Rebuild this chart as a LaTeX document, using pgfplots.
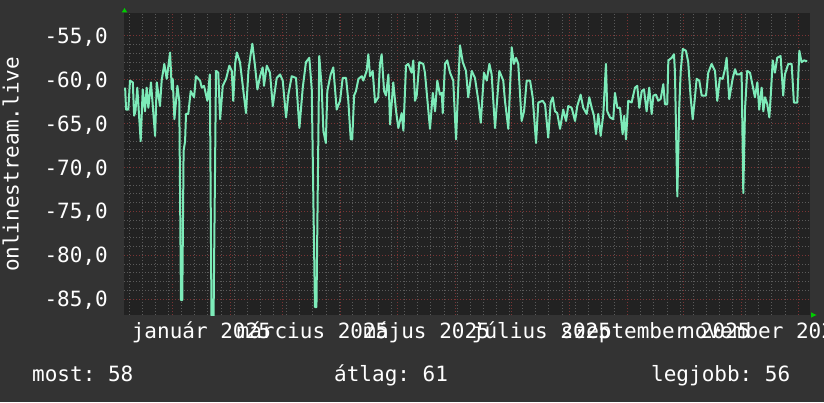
\documentclass[border=0pt]{standalone}
\usepackage{pgfplots}
\pgfplotsset{compat=1.18}
\usepackage{fontspec}
\setmainfont{DejaVu Sans Mono}
\frenchspacing
\definecolor{bgout}{HTML}{333333}
\definecolor{bgplot}{HTML}{222222}
\definecolor{gridminor}{HTML}{5A5A5A}
\definecolor{gridmajor}{HTML}{7A3434}
\definecolor{trace}{HTML}{7DEBB9}
\definecolor{arrowgreen}{HTML}{00CC00}
\newcommand\rrdfont{\fontsize{21}{24}\selectfont}

\begin{document}
\begin{tikzpicture}[x=1pt,y=1pt]
\fill[bgout] (0,0) rectangle (824,402);
\begin{axis}[
  at={(124pt,87pt)}, anchor=south west,
  scale only axis, width=686pt, height=302pt,
  xmin=-25.8, xmax=340.3, ymin=-86.8, ymax=-52.4,
  axis background/.style={fill=bgplot},
  axis line style={draw=none},
  % month starts (day 0 = 1 Jan 2025)
  xtick={0,31,59,90,120,151,181,212,243,273,304,334},
  xticklabels={},
  minor xtick={-23,-16,...,340},
  extra x ticks={15.5,74.8,135.7,197,258,316},
  extra x tick labels={január 2025,március 2025,május 2025,július 2025,szeptember 2025,november 2025},
  extra x tick style={grid=none},
  ytick={-85,-80,...,-55},
  minor y tick num=4,
  grid=both,
  major grid style={gridmajor, line width=1pt, dash pattern=on 1pt off 2pt},
  minor grid style={gridminor, line width=1pt, dash pattern=on 1pt off 2pt},
  major tick length=0pt, minor tick length=0pt,
  tick label style={font=\rrdfont, text=white},
  yticklabel style={anchor=base east, inner sep=0pt, xshift=-16pt, yshift=-7.5pt,
    /pgf/number format/fixed, /pgf/number format/fixed zerofill,
    /pgf/number format/precision=1, /pgf/number format/use comma,
    /pgf/number format/assume math mode=true},
  xticklabel style={anchor=base, inner sep=0pt, yshift=-23.5pt},
]
\addplot[trace, line width=2pt, line join=round, mark=none] coordinates {
(-25.2,-60.9) (-24.7,-63.4) (-23.5,-63.4) (-22.6,-60.1) (-21.1,-60.3) (-20.4,-64.1) (-19.7,-63.6) (-18.7,-60.9)
(-16.9,-67.0) (-15.8,-61.1) (-14.6,-63.6) (-13.7,-60.9) (-12.8,-63.2) (-11.4,-60.3) (-9.2,-66.4) (-8.3,-60.3)
(-6.6,-63.0) (-5.7,-60.1) (-4.3,-58.2) (-3.0,-59.9) (-1.2,-56.9) (-0.3,-61.1) (0.2,-59.9) (1.1,-64.5)
(2.7,-60.7) (3.7,-62.4) (4.6,-85.1) (5.3,-85.1) (6.0,-68.1) (6.8,-67.0) (7.3,-63.9) (8.5,-63.9)
(9.8,-61.3) (11.6,-62.0) (12.6,-59.6) (14.8,-60.1) (15.7,-60.9) (16.9,-60.7) (18.7,-62.4) (20.0,-59.4)
(20.9,-87.0) (22.0,-87.0) (23.3,-59.0) (24.5,-59.2) (25.5,-64.5) (26.9,-60.7) (28.7,-59.9) (30.4,-58.4)
(31.7,-59.0) (32.5,-62.4) (33.5,-58.2) (34.4,-56.9) (36.1,-58.0) (39.3,-63.8) (40.6,-59.0) (41.8,-57.1)
(42.7,-55.9) (44.1,-58.4) (45.4,-61.1) (46.8,-59.6) (48.2,-58.6) (48.9,-60.7) (50.4,-58.4) (52.1,-59.2)
(53.6,-63.0) (55.7,-59.8) (57.5,-59.4) (58.9,-60.1) (60.7,-64.3) (61.9,-61.7) (63.7,-59.6) (66.0,-59.8)
(67.8,-65.5) (69.6,-60.9) (71.3,-58.0) (73.1,-57.5) (74.4,-61.1) (76.1,-85.9) (76.9,-85.9) (78.4,-57.3)
(79.7,-60.9) (80.6,-65.8) (81.9,-67.2) (82.7,-61.3) (84.5,-59.4) (85.9,-58.6) (87.7,-63.4) (89.5,-62.4)
(90.9,-59.8) (92.7,-59.8) (93.9,-62.4) (95.2,-66.8) (96.0,-66.8) (97.0,-61.8) (98.0,-61.3) (99.3,-59.9)
(101.1,-59.6) (101.9,-60.1) (103.7,-59.0) (104.6,-57.1) (105.5,-59.6) (106.9,-59.0) (108.2,-62.6) (109.9,-62.0)
(110.8,-58.2) (111.7,-57.1) (113.0,-61.3) (114.0,-61.8) (115.3,-59.4) (116.2,-65.1) (117.9,-60.3) (119.4,-63.6)
(120.6,-65.5) (122.4,-63.8) (123.3,-65.8) (124.7,-58.4) (125.9,-58.2) (127.7,-59.2) (128.6,-57.8) (129.5,-62.4)
(130.4,-61.8) (131.8,-58.0) (133.9,-58.2) (134.8,-59.2) (137.5,-65.6) (139.0,-61.5) (140.2,-63.6) (141.4,-60.1)
(142.8,-61.7) (143.8,-61.5) (144.3,-63.8) (145.5,-58.2) (146.7,-57.8) (148.2,-59.2) (149.9,-60.1) (151.4,-66.8)
(153.5,-56.1) (155.0,-58.0) (156.7,-59.0) (157.9,-62.0) (159.8,-59.0) (161.5,-59.8) (163.3,-62.4) (164.6,-64.9)
(166.3,-59.2) (167.8,-60.1) (169.2,-58.2) (170.4,-59.4) (172.2,-65.5) (174.5,-59.0) (176.6,-60.1) (177.5,-62.4)
(179.3,-65.6) (181.1,-56.3) (182.3,-58.2) (183.4,-57.5) (184.6,-58.2) (186.4,-64.7) (187.7,-63.6) (189.1,-60.1)
(190.9,-60.1) (192.3,-62.0) (194.1,-67.2) (195.3,-62.6) (197.6,-62.4) (198.9,-62.8) (200.6,-66.6) (201.9,-62.6)
(203.0,-62.0) (204.2,-63.6) (205.4,-63.8) (206.9,-65.6) (208.6,-63.4) (210.1,-64.7) (211.3,-63.0) (213.1,-63.2)
(214.9,-64.7) (216.1,-63.0) (217.9,-61.7) (219.3,-63.2) (221.1,-63.9) (222.5,-62.0) (223.8,-63.2) (225.0,-64.1)
(226.1,-66.2) (227.3,-63.9) (228.6,-66.4) (230.0,-63.9) (231.4,-58.2) (232.1,-63.6) (233.6,-64.3) (235.3,-64.5)
(236.2,-61.5) (237.5,-63.2) (238.9,-63.2) (240.3,-66.2) (241.2,-64.1) (242.1,-66.8) (243.3,-62.4) (245.1,-62.6)
(246.9,-60.9) (248.1,-60.7) (249.2,-63.2) (250.5,-61.3) (251.7,-61.1) (253.1,-63.6) (254.5,-60.9) (255.8,-63.9)
(256.7,-61.8) (258.1,-61.7) (259.3,-62.4) (260.6,-62.2) (262.0,-60.5) (262.9,-62.8) (264.1,-62.8) (264.7,-57.8)
(266.5,-57.5) (267.7,-57.1) (268.2,-59.0) (269.5,-73.3) (270.5,-63.2) (271.3,-59.0) (272.4,-56.5) (274.1,-56.7)
(275.3,-58.0) (276.6,-62.0) (277.7,-64.5) (278.9,-62.0) (279.8,-59.9) (281.2,-60.1) (282.5,-61.8) (284.8,-61.8)
(286.0,-59.2) (287.8,-58.2) (289.6,-59.0) (290.8,-62.4) (292.2,-59.8) (293.7,-59.9) (294.9,-58.8) (295.8,-57.5)
(297.2,-62.2) (299.0,-59.9) (300.3,-58.8) (301.2,-59.4) (302.6,-59.4) (303.8,-59.2) (304.7,-72.9) (305.6,-63.4)
(306.8,-59.0) (308.3,-59.2) (309.7,-60.7) (310.9,-62.0) (312.2,-60.3) (313.2,-63.4) (314.5,-60.9) (315.4,-63.6)
(316.3,-62.0) (317.5,-62.8) (318.6,-64.3) (319.3,-62.0) (320.4,-57.8) (321.6,-59.2) (322.8,-57.5) (324.6,-57.3)
(326.0,-61.8) (326.9,-59.4) (328.7,-58.2) (330.5,-58.2) (331.7,-62.6) (333.5,-62.6) (334.6,-56.7) (335.8,-58.0)
(337.1,-57.8) (338.8,-57.9)
};
\end{axis}
% axis arrows
\fill[arrowgreen] (121.7,389.5) -- (127.3,389.5) -- (124.5,394) -- cycle;
\fill[arrowgreen] (811,84.3) -- (811,89.7) -- (816.5,87) -- cycle;
% vertical title and legend
\node[rotate=90, anchor=base, inner sep=0pt, text=white, font=\rrdfont] at (18.5,237.5) {onlinestream.live};
\node[anchor=base west, inner sep=0pt, text=white, font=\rrdfont] at (32,21) {most: 58};
\node[anchor=base west, inner sep=0pt, text=white, font=\rrdfont] at (334,21) {átlag: 61};
\node[anchor=base west, inner sep=0pt, text=white, font=\rrdfont] at (651,21) {legjobb: 56};
\pgfresetboundingbox
\path[use as bounding box] (0,0) rectangle (824,402);
\end{tikzpicture}
\end{document}
